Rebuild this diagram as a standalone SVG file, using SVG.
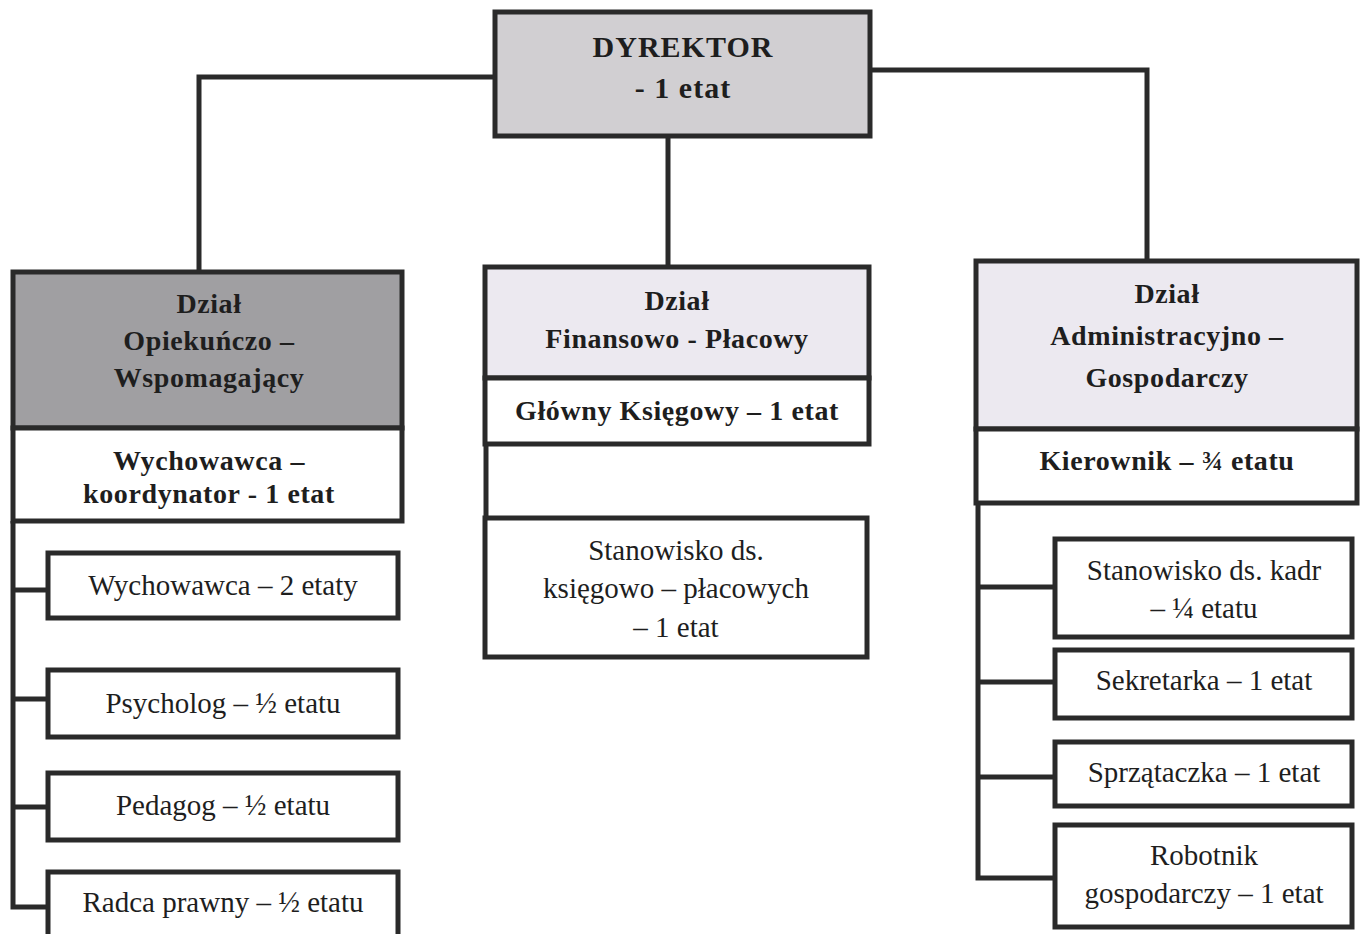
<svg xmlns="http://www.w3.org/2000/svg" width="1366" height="934" viewBox="0 0 1366 934">
<style>
.box{stroke:#2a2a2a;stroke-width:5;fill:#ffffff}
.dir{fill:#d1cfd2}
.dark{fill:#a09fa2}
.lav{fill:#ece9f0}
.ln{stroke:#2a2a2a;stroke-width:5;fill:none}
text{font-family:"Liberation Serif","Times New Roman",serif;fill:#1e1e1e;text-anchor:middle}
.b{font-weight:bold;font-size:28px;letter-spacing:0.6px}
.bd{font-weight:bold;font-size:30px;letter-spacing:1px}
.r{font-size:29px}
</style>
<rect width="1366" height="934" fill="#ffffff"/>
<g id="connectors">
<polyline class="ln" points="495,77 199,77 199,272"/>
<polyline class="ln" points="870,70 1147,70 1147,261"/>
<line class="ln" x1="668" y1="136" x2="668" y2="267"/>
<polyline class="ln" points="13,521 13,907 48,907"/>
<line class="ln" x1="13" y1="590" x2="48" y2="590"/>
<line class="ln" x1="13" y1="699" x2="48" y2="699"/>
<line class="ln" x1="13" y1="807" x2="48" y2="807"/>
<line class="ln" x1="486" y1="444" x2="486" y2="518"/>
<polyline class="ln" points="978,503 978,878 1055,878"/>
<line class="ln" x1="978" y1="587" x2="1055" y2="587"/>
<line class="ln" x1="978" y1="682" x2="1055" y2="682"/>
<line class="ln" x1="978" y1="777" x2="1055" y2="777"/>
</g>
<g id="dyrektor">
<rect class="box dir" x="495" y="12" width="375" height="124"/>
<text class="bd" x="683" y="57">DYREKTOR</text>
<text class="bd" x="683" y="98">- 1 etat</text>
</g>
<g id="dzial-opiekunczo">
<rect class="box dark" x="13" y="272" width="389" height="156"/>
<rect class="box" x="13" y="428" width="389" height="93"/>
<text class="b" x="209" y="313">Dział</text>
<text class="b" x="209" y="350">Opiekuńczo –</text>
<text class="b" x="209" y="387">Wspomagający</text>
<text class="b" x="209" y="470">Wychowawca –</text>
<text class="b" x="209" y="503">koordynator - 1 etat</text>
</g>
<g id="wychowawca"><rect class="box" x="48" y="553" width="350" height="65"/><text class="r" x="223" y="595">Wychowawca – 2 etaty</text></g>
<g id="psycholog"><rect class="box" x="48" y="670" width="350" height="67"/><text class="r" x="223" y="713">Psycholog – ½ etatu</text></g>
<g id="pedagog"><rect class="box" x="48" y="773" width="350" height="67"/><text class="r" x="223" y="815">Pedagog – ½ etatu</text></g>
<g id="radca"><rect class="box" x="48" y="872" width="350" height="70"/><text class="r" x="223" y="912">Radca prawny – ½ etatu</text></g>
<g id="dzial-finansowo">
<rect class="box lav" x="485" y="267" width="384" height="111"/>
<rect class="box" x="485" y="378" width="384" height="66"/>
<text class="b" x="677" y="310">Dział</text>
<text class="b" x="677" y="348">Finansowo - Płacowy</text>
<text class="b" x="677" y="420">Główny Księgowy – 1 etat</text>
</g>
<g id="ksiegowo">
<rect class="box" x="485" y="518" width="382" height="139"/>
<text class="r" x="676" y="560">Stanowisko ds.</text>
<text class="r" x="676" y="598">księgowo – płacowych</text>
<text class="r" x="676" y="637">– 1 etat</text>
</g>
<g id="dzial-administracyjno">
<rect class="box lav" x="976" y="261" width="381" height="168"/>
<rect class="box" x="976" y="429" width="381" height="74"/>
<text class="b" x="1167" y="303">Dział</text>
<text class="b" x="1167" y="345">Administracyjno –</text>
<text class="b" x="1167" y="387">Gospodarczy</text>
<text class="b" x="1167" y="470">Kierownik – ¾ etatu</text>
</g>
<g id="kadry"><rect class="box" x="1055" y="539" width="297" height="98"/><text class="r" x="1204" y="580">Stanowisko ds. kadr</text><text class="r" x="1204" y="618">– ¼ etatu</text></g>
<g id="sekretarka"><rect class="box" x="1055" y="650" width="297" height="68"/><text class="r" x="1204" y="690">Sekretarka – 1 etat</text></g>
<g id="sprzataczka"><rect class="box" x="1055" y="742" width="297" height="64"/><text class="r" x="1204" y="782">Sprzątaczka – 1 etat</text></g>
<g id="robotnik"><rect class="box" x="1055" y="825" width="297" height="102"/><text class="r" x="1204" y="865">Robotnik</text><text class="r" x="1204" y="903">gospodarczy – 1 etat</text></g>
</svg>
